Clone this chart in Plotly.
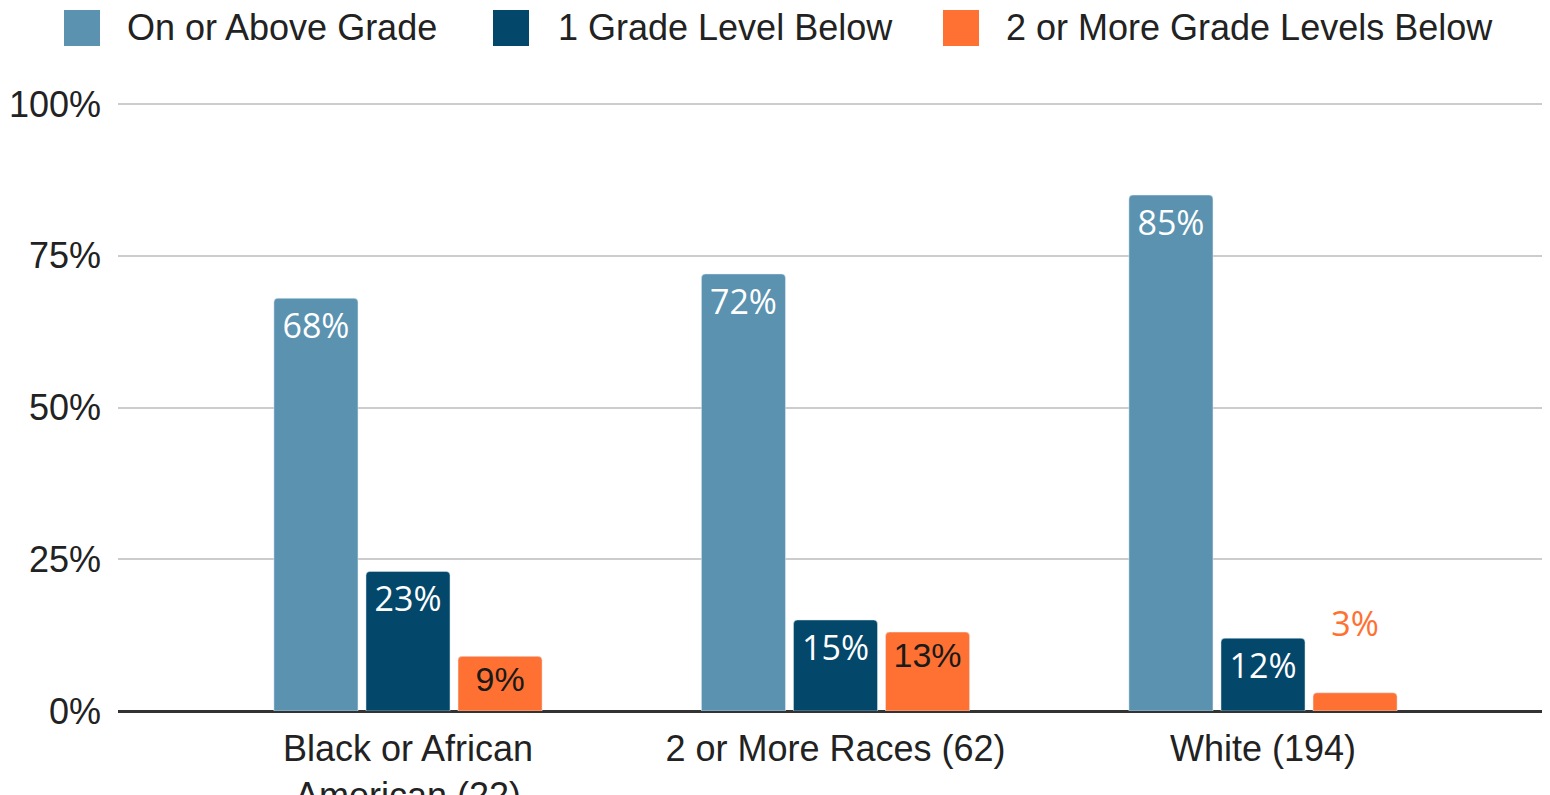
import plotly.graph_objects as go

categories = ["Black or African<br>American (22)", "2 or More Races (62)", "White (194)"]
series_names = ["On or Above Grade", "1 Grade Level Below", "2 or More Grade Levels Below"]
on_or_above = [68, 72, 85]
one_below = [23, 15, 12]
two_or_more_below = [9, 13, 3]
y_ticks = [0, 25, 50, 75, 100]
y_tick_labels = ["0%", "25%", "50%", "75%", "100%"]

colors = ["#5a92b0", "#03476a", "#ff7133"]
series_values = [on_or_above, one_below, two_or_more_below]

# figure pixel geometry (page is offset by 8px body margin)
W, H = 1550, 795
ML, MR, MT, MB = 110, 0, 93, 92
PW, PH = W - ML - MR, H - MT - MB
PX_PER_UNIT = 6.07          # pixels per percentage point
PX_PER_CAT = 427.5          # pixels per category
FIRST_CAT_PX = 400          # centre of first group, figure pixels

LABEL_FONT = "Open Sans"
AXIS_FONT = "Liberation Sans, Arial"

fig = go.Figure()
for name, vals, col in zip(series_names, series_values, colors):
    if col == "#ff7133":
        texts = [f"{v}%" if v >= 8 else f"{v}%<br> " for v in vals]
        positions = ["inside" if v >= 8 else "outside" for v in vals]
        tcolors = ["#1a1a1a" if v >= 8 else "#ff7133" for v in vals]
        tfam = [AXIS_FONT if v >= 8 else LABEL_FONT for v in vals]
    else:
        texts = [f"{v}%" for v in vals]
        positions = ["inside"] * len(vals)
        tcolors = ["#ffffff"] * len(vals)
        tfam = [LABEL_FONT] * len(vals)
    fig.add_trace(go.Bar(
        x=[0, 1, 2], y=vals, name=name, marker_color=col,
        text=texts, textposition=positions, insidetextanchor="end",
        textfont=dict(color=tcolors, family=tfam, size=34),
        constraintext="none", cliponaxis=False, showlegend=False,
        textangle=0,
    ))

# custom legend with large swatches (figure-pixel positions converted to paper coords)
legend_px = [(56, 117), (485, 548), (935, 996)]
for (sx, tx), name, col in zip(legend_px, series_names, colors):
    fig.add_shape(type="rect", xref="paper", yref="paper",
                  x0=(sx - ML) / PW, x1=(sx + 36 - ML) / PW,
                  y0=(MT + PH - 38) / PH, y1=(MT + PH - 2) / PH,
                  fillcolor=col, line_width=0)
    fig.add_annotation(xref="paper", yref="paper", x=(tx - ML) / PW, y=(MT + PH - 20) / PH,
                       text=name, showarrow=False, xanchor="left", yanchor="middle",
                       font=dict(family=AXIS_FONT, size=36, color="#222222"))

x0 = -(FIRST_CAT_PX - ML) / PX_PER_CAT
fig.update_layout(
    width=W, height=H,
    margin=dict(l=ML, r=MR, t=MT, b=MB, autoexpand=False),
    paper_bgcolor="white", plot_bgcolor="white",
    barmode="group", bargap=0.354, bargroupgap=0.087,
    barcornerradius=4,
    showlegend=False,
)
fig.update_xaxes(
    tickmode="array", tickvals=[0, 1, 2], ticktext=categories,
    range=[x0, x0 + PW / PX_PER_CAT],
    showgrid=False, zeroline=False, showline=False, ticks="",
    tickfont=dict(family=AXIS_FONT, size=36, color="#222222"),
    ticklabelstandoff=13,
)
fig.update_yaxes(
    range=[0, PH / PX_PER_UNIT], tickmode="array", tickvals=y_ticks, ticktext=y_tick_labels,
    showgrid=True, gridcolor="#cccccc", gridwidth=2,
    zeroline=True, zerolinecolor="#333333", zerolinewidth=3,
    showline=False, ticks="",
    tickfont=dict(family=AXIS_FONT, size=36, color="#222222"),
    ticklabelstandoff=16,
)
fig.write_html("out.html")
